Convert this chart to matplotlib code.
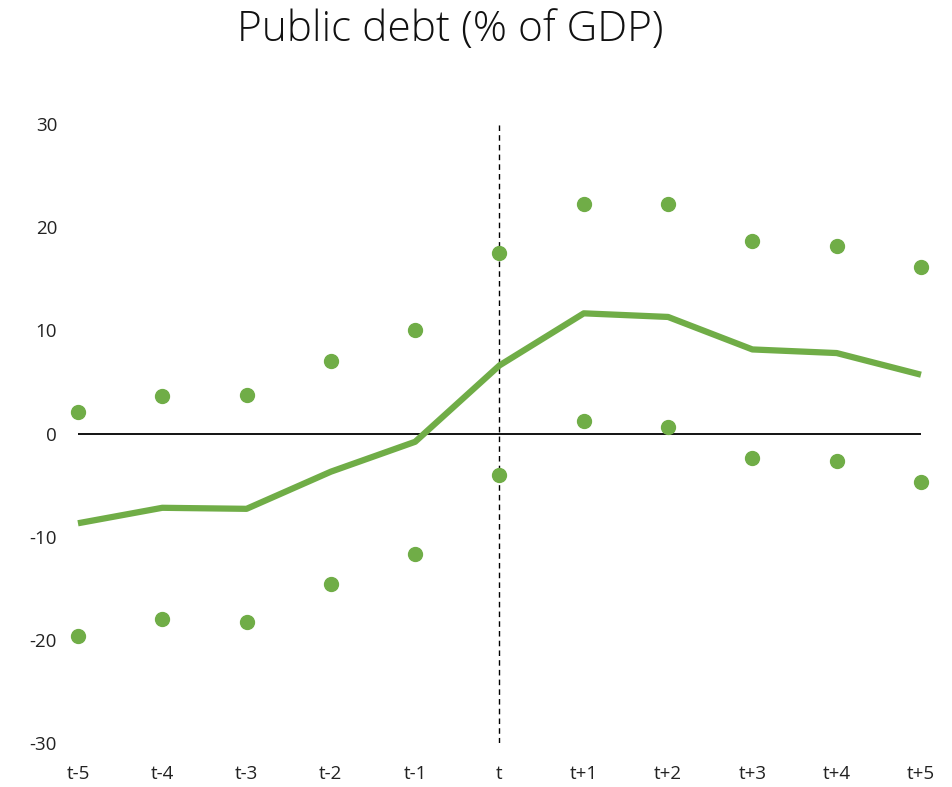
import numpy as np
import matplotlib.pyplot as plt

periods = ['t-5', 't-4', 't-3', 't-2', 't-1', 't', 't+1', 't+2', 't+3', 't+4', 't+5']
debt_mean = [-8.7, -7.2, -7.3, -3.7, -0.8, 6.6, 11.65, 11.3, 8.15, 7.8, 5.7]
debt_upper = [2.1, 3.6, 3.7, 7.0, 10.0, 17.5, 22.2, 22.2, 18.7, 18.2, 16.1]
debt_lower = [-19.6, -18.0, -18.3, -14.6, -11.7, -4.0, 1.2, 0.6, -2.4, -2.7, -4.7]

green = '#70AD47'
plt.rcParams['font.family'] = ['Open Sans', 'DejaVu Sans']
plt.rcParams['axes.unicode_minus'] = False


def main():
    fig = plt.figure(figsize=(9.53, 7.87), dpi=100)
    ax = fig.add_axes([0.0818, 0.0559, 0.8846, 0.7865])
    x = np.arange(len(periods))

    ax.axhline(0, color='black', linewidth=1.3, zorder=1)
    ax.axvline(5, color='black', linewidth=1.0, linestyle=(0, (4, 3)), zorder=1)

    ax.plot(x, debt_mean, color=green, linewidth=4.5, solid_capstyle='butt',
            zorder=3, clip_on=False)
    ax.plot(x, debt_upper, 'o', color=green, markersize=10, zorder=3, clip_on=False)
    ax.plot(x, debt_lower, 'o', color=green, markersize=10, zorder=3, clip_on=False)

    ax.set_xlim(0, len(periods) - 1)
    ax.set_ylim(-30, 30)
    ax.set_yticks([-30, -20, -10, 0, 10, 20, 30])
    ax.set_xticks(x)
    ax.set_xticklabels(periods)
    ax.tick_params(length=0, labelsize=13.5, labelcolor='#222222')
    ax.tick_params(axis='y', pad=15)
    ax.tick_params(axis='x', pad=16)
    for s in ax.spines.values():
        s.set_visible(False)

    fig.text(0.472, 0.962, 'Public debt (% of GDP)', ha='center', va='center',
             fontsize=30.5, fontweight='light', color='#111111')

    fig.savefig('out.png', dpi=100)


if __name__ == '__main__':
    main()
